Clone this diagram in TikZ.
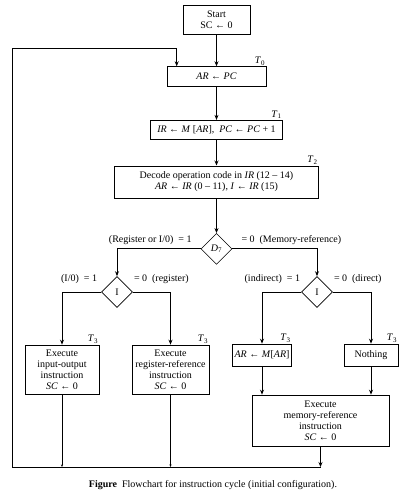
\documentclass[tikz,border=0pt]{standalone}
\usepackage{fontspec}
\setmainfont{Liberation Serif}
\usepackage{tikz}
\usetikzlibrary{shapes,arrows.meta,positioning}
\newcommand\flowfont{\fontsize{10}{11}\selectfont}

\begin{document}
\begin{tikzpicture}[x=1pt, y=1pt,
    block/.style={rectangle, draw, semithick, align=center, inner sep=2pt, font=\flowfont},
    decision/.style={diamond, draw, semithick, inner sep=0pt, minimum width=31pt, minimum height=31pt, font=\flowfont},
    lab/.style={font=\flowfont, inner sep=0pt},
    tlab/.style={font=\flowfont, inner sep=1pt, anchor=south east},
    arrow/.style={-{Stealth[length=5pt,width=4pt]}, line width=1pt},
    tiny/.style={-{Stealth[length=2.5pt,width=2pt]}, line width=1pt},
    line/.style={line width=1pt}
]
\useasboundingbox (0,0) rectangle (401,-496);

\node[block, minimum width=67pt, minimum height=29pt] (start) at (216.5,-19.5) {Start\\SC ← 0};
\node[block, below=32pt of start, minimum width=99pt, minimum height=20pt] (ar) {\textit{AR} ← \textit{PC}};
\node[block, below=33pt of ar, minimum width=132pt, minimum height=19pt] (ir) {\textit{IR} ← \textit{M} [\textit{AR}],\ \ \textit{PC} ← \textit{PC} + 1};
\node[block, below=26pt of ir, minimum width=204pt, minimum height=32pt] (dec) {Decode operation code in \textit{IR} (12 – 14)\\\textit{AR} ← \textit{IR} (0 – 11),\ \textit{I} ← \textit{IR} (15)};
\node[decision, below=35pt of dec] (d7) {\textit{D}\textsubscript{7}};

\node[decision] (iio) at (117,-292) {I};
\node[decision] (imem) at (317,-292) {I};

\node[block, minimum width=74pt, minimum height=49pt] (io) at (62,-369.5) {Execute\\input-output\\instruction\\\textit{SC} ← 0};
\node[block, minimum width=77pt, minimum height=49pt] (reg) at (170.5,-369.5) {Execute\\register-reference\\instruction\\\textit{SC} ← 0};
\node[block, minimum width=56pt, minimum height=22pt] (arm) at (262,-355) {\textit{AR} ← \textit{M}[\textit{AR}]};
\node[block, minimum width=54pt, minimum height=22pt] (noth) at (371,-355) {Nothing};
\node[block, minimum width=137pt, minimum height=51pt] (mem) at (320.5,-420.5) {Execute\\memory-reference\\instruction\\\textit{SC} ← 0};

\node[tlab] (t0) at (ar.north east) {\textit{T}\textsubscript{0}};
\node[tlab] (t1) at (ir.north east) {\textit{T}\textsubscript{1}};
\node[tlab] (t2) at (dec.north east) {\textit{T}\textsubscript{2}};
\node[tlab] (t3a) at (io.north east) {\textit{T}\textsubscript{3}};
\node[tlab] (t3b) at (reg.north east) {\textit{T}\textsubscript{3}};
\node[tlab] (t3c) at (arm.north east) {\textit{T}\textsubscript{3}};
\node[tlab] (t3d) at (noth.north east) {\textit{T}\textsubscript{3}};

\node[lab, anchor=east] (lregio) at ([shift={(-9pt,9pt)}]d7.west) {(Register or I/0)\enspace = 1};
\node[lab, anchor=west] (lmemref) at ([shift={(9pt,9pt)}]d7.east) {= 0\enspace(Memory-reference)};
\node[lab, anchor=east] (lio) at ([shift={(-4pt,13pt)}]iio.west) {(I/0)\enspace = 1};
\node[lab, anchor=west] (lreg) at ([shift={(1pt,13pt)}]iio.east) {= 0\enspace(register)};
\node[lab, anchor=east] (lind) at ([shift={(-1pt,13pt)}]imem.west) {(indirect)\enspace = 1};
\node[lab, anchor=west] (ldir) at ([shift={(1pt,13pt)}]imem.east) {= 0\enspace(direct)};

\coordinate (bl) at (12,-467);
\coordinate (tl) at (12,-48);
\coordinate (mj) at (mem.south |- bl);

\draw[arrow] (start) -- (ar);
\draw[arrow] (ar) -- (ir);
\draw[arrow] (ir) -- (dec);
\draw[arrow] (dec) -- (d7);
\draw[arrow] (d7.west) -| (iio.north);
\draw[arrow] (d7.east) -| (imem.north);
\draw[arrow] (iio.west) -| (io.north);
\draw[arrow] (iio.east) -| (reg.north);
\draw[arrow] (imem.west) -| (arm.north);
\draw[arrow] (imem.east) -| (noth.north);
\draw[arrow] (arm.south) -- (arm.south |- mem.north);
\draw[arrow] (noth.south) -- (noth.south |- mem.north);
\draw[arrow] (mem.south) -- (mj);
\draw[tiny] (io.south) -- (io.south |- bl);
\draw[tiny] (reg.south) -- (reg.south |- bl);
\draw[arrow] (mj) -- (bl) -- (tl) -| ([xshift=10pt]ar.north west);

\node[font=\flowfont] (cap) at (213,-485) {\textbf{Figure}\enspace Flowchart for instruction cycle (initial configuration).};
\end{tikzpicture}
\end{document}
